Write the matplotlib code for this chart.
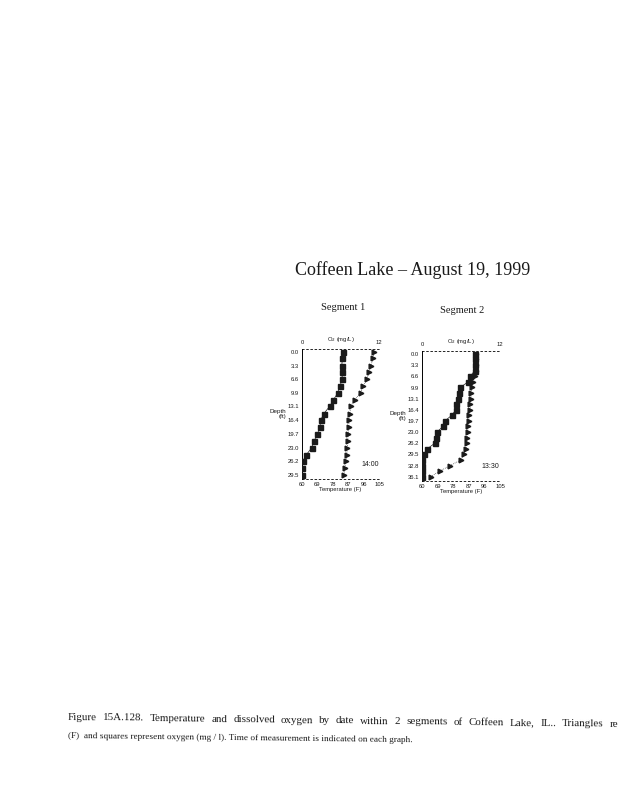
import matplotlib
matplotlib.use("Agg")
from matplotlib import pyplot as plt

# depth (ft), temperature (F) and dissolved oxygen (mg/l)
seg1_depth = [0.0, 1.6, 3.3, 4.9, 6.6, 8.2, 9.8, 11.5, 13.1, 14.8, 16.4, 18.0,
              19.7, 21.3, 23.0, 24.6, 26.2, 27.9, 29.5]
seg1_temp = [102.2, 101.6, 100.3, 99.3, 97.9, 95.9, 94.3, 90.8, 88.4, 88.0,
             87.4, 87.4, 87.1, 86.6, 86.5, 86.1, 85.5, 85.0, 84.5]
seg1_oxy = [6.4, 6.3, 6.2, 6.2, 6.3, 5.9, 5.6, 4.9, 4.3, 3.4, 2.9, 2.8, 2.4,
            1.9, 1.5, 0.7, 0.1, 0.0, 0.0]

seg2_depth = [0.0, 1.6, 3.3, 4.9, 6.6, 8.2, 9.8, 11.5, 13.1, 14.8, 16.4, 18.0,
              19.7, 21.3, 23.0, 24.6, 26.2, 27.9, 29.5, 31.2, 32.8, 34.4, 36.1]
seg2_temp = [91.2, 91.2, 91.2, 91.0, 90.6, 89.6, 89.0, 88.4, 88.1, 87.9, 87.7,
             87.1, 86.9, 86.5, 86.3, 86.1, 85.8, 85.4, 84.2, 82.3, 76.2, 70.4,
             65.0]
seg2_oxy = [8.2, 8.2, 8.2, 8.1, 7.4, 7.1, 5.9, 5.7, 5.6, 5.2, 5.2, 4.6, 3.5,
            3.2, 2.3, 2.2, 2.0, 0.8, 0.35, 0.05, 0.05, 0.05, 0.05]

seg1_ticks = [0.0, 3.3, 6.6, 9.9, 13.1, 16.4, 19.7, 23.0, 26.2, 29.5]
seg2_ticks = [0.0, 3.3, 6.6, 9.9, 13.1, 16.4, 19.7, 23.0, 26.2, 29.5, 32.8, 36.1]
temp_ticks = [60, 69, 78, 87, 96, 105]
oxy_ticks = [0, 12]

W, H = 618, 800
fig = plt.figure(figsize=(6.18, 8), dpi=100)
serif = "Liberation Serif"
sans = "Liberation Sans"
ink = "#1a1a1a"


def panel(box, depth, temp, oxy, yticks, ylim, time_label):
    x0, y0, x1, y1 = box
    ax = fig.add_axes([x0 / W, 1 - y1 / H, (x1 - x0) / W, (y1 - y0) / H])
    ax.set_xlim(60, 105)
    ax.set_ylim(*ylim)
    ax.plot(temp, depth, color=ink, lw=0.5, ls=":", marker=">", ms=3.4,
            mfc=ink, mec=ink)
    ax.set_xticks(temp_ticks)
    ax.set_xticklabels([str(t) for t in temp_ticks], fontsize=4.2,
                       family=sans, color=ink)
    ax.set_yticks(yticks)
    ax.set_yticklabels(["%.1f" % t for t in yticks], fontsize=4.2,
                       family=sans, color=ink)
    ax.tick_params(length=0, pad=2)
    ax.set_xlabel("Temperature (F)", fontsize=4.2, family=sans, color=ink,
                  labelpad=0.5)
    ax.set_ylabel("Depth\n(ft)", fontsize=4.5, family=sans, color=ink,
                  rotation=0, ha="right", va="center", labelpad=1)
    ax.spines["right"].set_visible(False)
    ax.spines["left"].set_linewidth(0.7)
    for s in ["top", "bottom"]:
        ax.spines[s].set_linestyle((0, (2, 3)))
        ax.spines[s].set_linewidth(0.6)
    ax.text(0.88, 0.1, time_label, transform=ax.transAxes, fontsize=5,
            family=sans, color=ink, ha="center")

    ox = ax.twiny()
    ox.set_xlim(0, 12)
    ox.plot(oxy, depth, color=ink, lw=0.5, marker="s", ms=3.6,
            mfc=ink, mec=ink)
    ox.set_xticks(oxy_ticks)
    ox.set_xticklabels([str(t) for t in oxy_ticks], fontsize=4.2,
                       family=sans, color=ink)
    ox.tick_params(length=0, pad=3)
    ox.set_xlabel("O$_2$ (mg/L)", fontsize=4.2, family=sans, color=ink,
                  labelpad=-1)
    for s in ["right", "left", "top", "bottom"]:
        ox.spines[s].set_visible(False)
    return ax


panel((302, 349, 379, 479), seg1_depth, seg1_temp, seg1_oxy, seg1_ticks,
      (30.45, -0.65), "14:00")
panel((422, 351, 500, 481), seg2_depth, seg2_temp, seg2_oxy, seg2_ticks,
      (37.35, -0.88), "13:30")

fig.text(413 / W, 1 - 270 / H, "Coffeen Lake \u2013 August 19, 1999",
         family=serif, fontsize=13, ha="center", va="center", color=ink)
fig.text(343 / W, 1 - 308 / H, "Segment 1", family=serif, fontsize=7.5,
         ha="center", va="center", color=ink)
fig.text(462 / W, 1 - 311 / H, "Segment 2", family=serif, fontsize=7.5,
         ha="center", va="center", color=ink)

# caption: first line is justified, second line left aligned, page slightly skewed
slope = 0.0122
line1 = ("Figure 15A.128. Temperature and dissolved oxygen by date within "
         "2 segments of Coffeen Lake, IL..  Triangles represent").split()
line2 = ("(F)  and squares represent oxygen (mg / l). Time of measurement "
         "is indicated on each graph.")
renderer = fig.canvas.get_renderer()
words = [fig.text(0, 0, w, family=serif, fontsize=7.9, color=ink)
         for w in line1]
widths = [t.get_window_extent(renderer).width for t in words]
left, right = 68, 650
gap = (right - left - sum(widths)) / (len(words) - 1)
x = left
for t, w in zip(words, widths):
    t.set_position((x / W, 1 - (720 + (x - left) * slope) / H))
    t.set_rotation(-0.7)
    t.set_rotation_mode("anchor")
    t.set_va("baseline")
    x += w + gap
fig.text(68 / W, 1 - 738 / H, line2, family=serif, fontsize=6.7,
         color=ink, rotation=-0.7, rotation_mode="anchor", va="baseline")

fig.savefig("out.png", dpi=100, facecolor="white")
